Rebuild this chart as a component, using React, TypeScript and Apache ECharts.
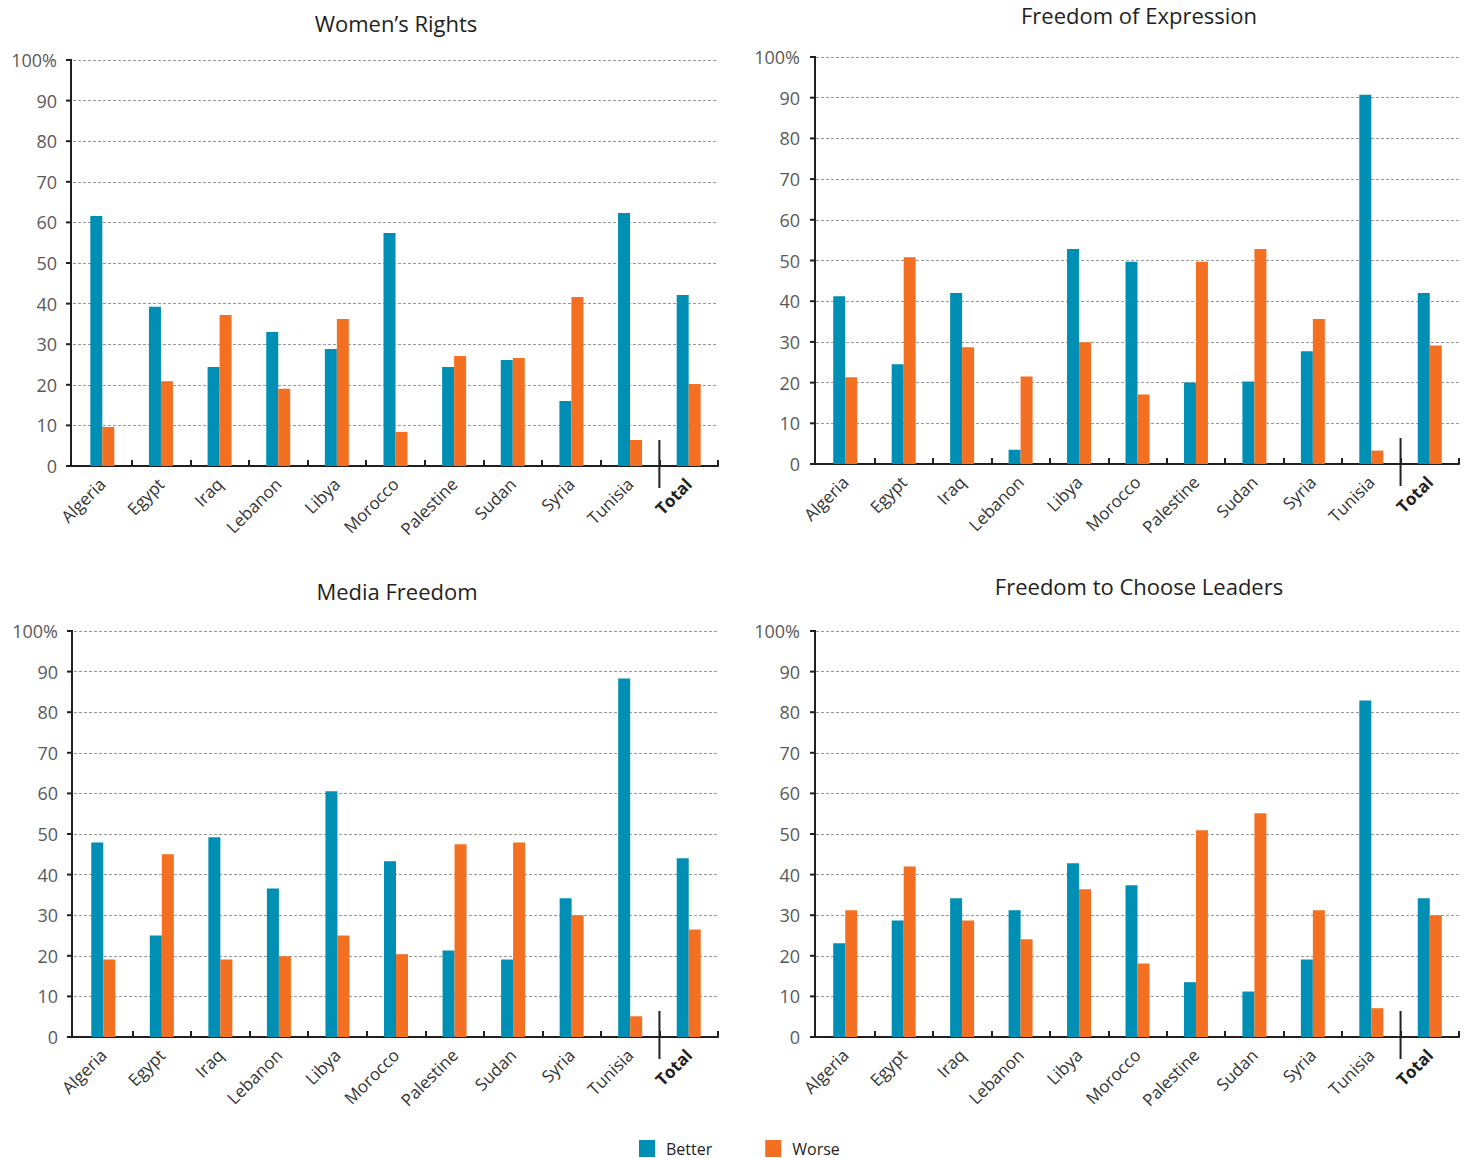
import React, { useEffect, useRef } from "react";
import * as echarts from "echarts";

const categories = ["Algeria", "Egypt", "Iraq", "Lebanon", "Libya", "Morocco", "Palestine", "Sudan", "Syria", "Tunisia", "Total"];
const yTicks = [0, 10, 20, 30, 40, 50, 60, 70, 80, 90, 100];
const titles = ["Women’s Rights", "Freedom of Expression", "Media Freedom", "Freedom to Choose Leaders"];
const seriesNames = ["Better", "Worse"];

const womensBetter = [61.6, 39.2, 24.4, 33.0, 28.8, 57.4, 24.4, 26.1, 16.0, 62.3, 42.1];
const womensWorse = [9.6, 20.9, 37.2, 19.0, 36.2, 8.4, 27.1, 26.6, 41.6, 6.4, 20.2];
const expressionBetter = [41.2, 24.5, 42.0, 3.5, 52.8, 49.7, 20.0, 20.3, 27.7, 90.7, 42.0];
const expressionWorse = [21.3, 50.8, 28.7, 21.5, 29.9, 17.1, 49.7, 52.8, 35.6, 3.3, 29.1];
const mediaBetter = [47.9, 25.0, 49.2, 36.6, 60.5, 43.3, 21.3, 19.1, 34.2, 88.3, 44.0];
const mediaWorse = [19.1, 45.0, 19.1, 19.9, 25.0, 20.4, 47.5, 47.9, 30.0, 5.1, 26.5];
const leadersBetter = [23.1, 28.7, 34.2, 31.2, 42.8, 37.4, 13.5, 11.2, 19.1, 82.9, 34.2];
const leadersWorse = [31.2, 42.0, 28.7, 24.1, 36.4, 18.1, 50.9, 55.1, 31.2, 7.1, 30.0];

const panels = [
  [womensBetter, womensWorse],
  [expressionBetter, expressionWorse],
  [mediaBetter, mediaWorse],
  [leadersBetter, leadersWorse],
];

const BLUE = "#008FB4";
const ORANGE = "#F37022";
const FONT = "Open Sans";

const grids = [
  { left: 73, top: 60, width: 645, height: 406 },
  { left: 816, top: 57, width: 643, height: 407 },
  { left: 74, top: 631, width: 644, height: 406 },
  { left: 816, top: 631, width: 643, height: 406 },
];
const axisX = [71, 815, 72, 815];
const titlePos = [
  { x: 391, y: 7 },
  { x: 1134, y: -1 },
  { x: 392, y: 575 },
  { x: 1134, y: 570 },
];

export default function App() {
  const ref = useRef<HTMLDivElement>(null);
  useEffect(() => {
    if (!ref.current) return;
    const chart = echarts.init(ref.current, undefined, { renderer: "svg" });
    const option: any = {
      animation: false,
      backgroundColor: "#ffffff",
      textStyle: { fontFamily: FONT },
      title: titles.map((t, i) => ({
        text: t,
        left: titlePos[i].x,
        top: titlePos[i].y,
        textAlign: "center",
        textStyle: { fontFamily: FONT, fontSize: 22, fontWeight: "normal", color: "#231f20" },
      })),
      legend: {
        data: seriesNames,
        left: 639,
        top: 1140,
        padding: 0,
        icon: "rect",
        itemWidth: 16,
        itemHeight: 17,
        itemGap: 53,
        textStyle: { fontFamily: FONT, fontSize: 16, color: "#231f20", padding: [0, 0, 0, 6] },
      },
      grid: grids.map((g) => ({ ...g, containLabel: false })),
      xAxis: grids.map((_, i) => ({
        type: "category",
        gridIndex: i,
        data: categories,
        axisLine: { lineStyle: { color: "#231f20", width: 2 } },
        axisTick: {
          show: true,
          inside: true,
          length: 6,
          interval: (idx: number) => idx !== 0,
          lineStyle: { color: "#231f20", width: 2 },
        },
        axisLabel: {
          interval: 0,
          rotate: 45,
          margin: 15,
          fontFamily: FONT,
          fontSize: 17,
          color: "#333333",
          formatter: (v: string) => (v === "Total" ? "{b|Total}" : v),
          rich: { b: { fontWeight: "bold", fontSize: 17, color: "#231f20", fontFamily: FONT } },
        },
      })),
      yAxis: grids.map((_, i) => ({
        type: "value",
        gridIndex: i,
        min: 0,
        max: 100,
        interval: 10,
        axisLine: { show: false },
        axisTick: { show: false },
        axisLabel: {
          margin: 16,
          fontFamily: FONT,
          fontSize: 18,
          color: "#5a5a5a",
          formatter: (v: number) => (v === yTicks[yTicks.length - 1] ? v + "%" : String(v)),
        },
        splitLine: { show: true, lineStyle: { color: "#9a9a9a", type: [3, 2], width: 1 } },
      })),
      series: panels.flatMap((p, i) =>
        p.map((d, k) => ({
          name: seriesNames[k],
          type: "bar",
          xAxisIndex: i,
          yAxisIndex: i,
          data: d,
          barWidth: 12,
          barGap: "0%",
          itemStyle: { color: k === 0 ? BLUE : ORANGE },
        }))
      ),
    };
    chart.setOption(option);
    const graphics: any[] = [];
    grids.forEach((g, i) => {
      const a = chart.convertToPixel({ xAxisIndex: i, yAxisIndex: i } as any, [categories[9], 0]) as number[];
      const b = chart.convertToPixel({ xAxisIndex: i, yAxisIndex: i } as any, [categories[10], 0]) as number[];
      const top = chart.convertToPixel({ xAxisIndex: i, yAxisIndex: i } as any, [categories[0], yTicks[yTicks.length - 1]]) as number[];
      const x = (a[0] + b[0]) / 2;
      const y = a[1];
      const ax = axisX[i];
      graphics.push({
        type: "line",
        shape: { x1: x, y1: y - 26, x2: x, y2: y + 22 },
        style: { stroke: "#231f20", lineWidth: 2 },
        z: 10,
      });
      graphics.push({
        type: "line",
        shape: { x1: ax, y1: top[1] - 1, x2: ax, y2: y + 1 },
        style: { stroke: "#231f20", lineWidth: 2 },
        z: 10,
      });
      yTicks.forEach((t) => {
        const p = chart.convertToPixel({ xAxisIndex: i, yAxisIndex: i } as any, [categories[0], t]) as number[];
        graphics.push({
          type: "line",
          shape: { x1: ax - 5, y1: p[1], x2: ax, y2: p[1] },
          style: { stroke: "#231f20", lineWidth: 2 },
          z: 10,
        });
      });
      graphics.push({
        type: "line",
        shape: { x1: ax - 2, y1: y, x2: g.left, y2: y },
        style: { stroke: "#231f20", lineWidth: 2 },
        z: 10,
      });
    });
    chart.setOption({ graphic: graphics });
    return () => chart.dispose();
  }, []);
  return (
    <div
      ref={ref}
      style={{ position: "absolute", left: 0, top: 0, width: 1468, height: 1158 }}
    />
  );
}
